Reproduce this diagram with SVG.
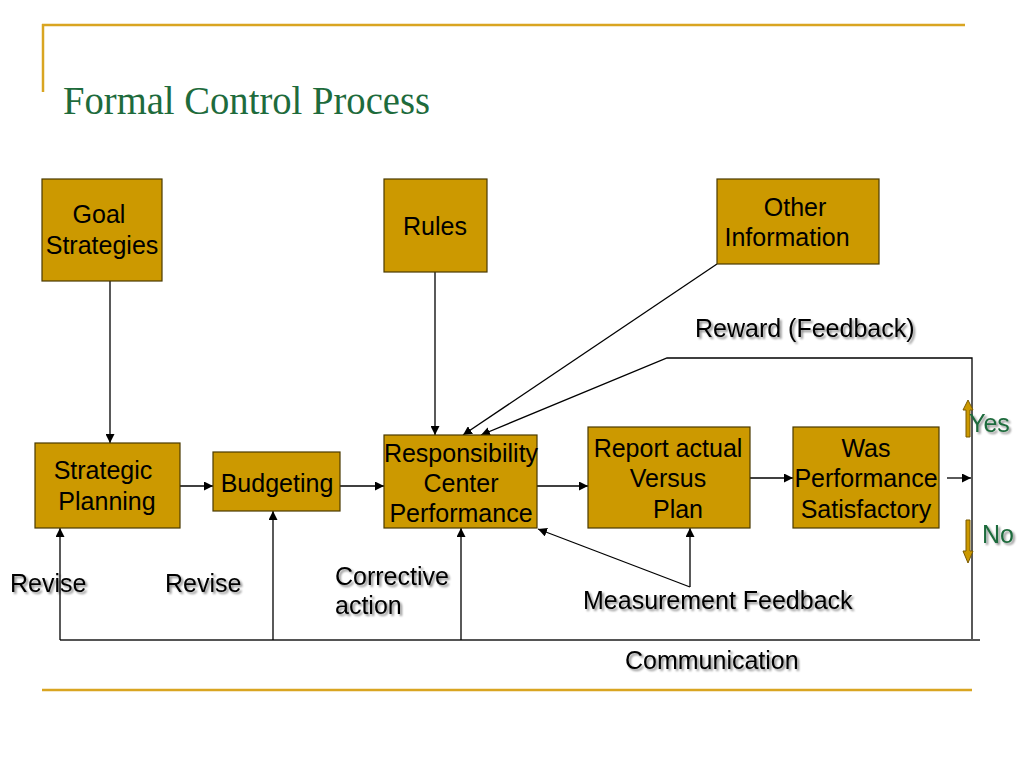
<svg xmlns="http://www.w3.org/2000/svg" width="1024" height="768" viewBox="0 0 1024 768">
<defs>
<style>
.box{fill:#CC9900;stroke:#4a3a00;stroke-width:1.2}
.t{font-family:"Liberation Sans",Arial,sans-serif;font-size:25px;fill:#000;filter:url(#sh)}
.bt{font-family:"Liberation Sans",Arial,sans-serif;font-size:25px;fill:#000}
.g{fill:#1E6B3C}
.ln{fill:none;stroke:#000;stroke-width:1.3}
.gl{fill:none;stroke:#555;stroke-width:1.8}
.rule{stroke:#D9A521;stroke-width:2.5}
.ga{fill:#CC9900;stroke:#7a5a00;stroke-width:1}
</style>
<filter id="sh" x="-10%" y="-20%" width="130%" height="150%">
<feGaussianBlur in="SourceAlpha" stdDeviation="0.8"/>
<feOffset dx="1.5" dy="1.5" result="o"/>
<feComponentTransfer><feFuncA type="linear" slope="0.45"/></feComponentTransfer>
<feMerge><feMergeNode/><feMergeNode in="SourceGraphic"/></feMerge>
</filter>
<marker id="ar" viewBox="0 0 10 10" refX="10" refY="5" markerWidth="9" markerHeight="9" markerUnits="userSpaceOnUse" orient="auto">
<path d="M0,0 L10,5 L0,10 z" fill="#000"/>
</marker>
</defs>
<rect width="1024" height="768" fill="#fff"/>
<g id="frame">
<line class="rule" x1="42" y1="25" x2="965" y2="25"/>
<line class="rule" x1="43" y1="24" x2="43" y2="92"/>
<line class="rule" x1="42" y1="690" x2="972" y2="690"/>
<text x="63" y="114" font-family="Liberation Serif,'Times New Roman',serif" font-size="39" fill="#1E6B3C" textLength="367" lengthAdjust="spacingAndGlyphs">Formal Control Process</text>
</g>
<g id="connectors">
<line class="ln" x1="110" y1="281" x2="110" y2="443" marker-end="url(#ar)"/>
<line class="ln" x1="435" y1="272" x2="435" y2="435" marker-end="url(#ar)"/>
<line class="ln" x1="717" y1="264" x2="463" y2="435" marker-end="url(#ar)"/>
<polyline class="ln" points="972,640 972,358 667,358 481,435" marker-end="url(#ar)"/>
<line class="ln" x1="180" y1="486" x2="213" y2="486" marker-end="url(#ar)"/>
<line class="ln" x1="340" y1="486" x2="384" y2="486" marker-end="url(#ar)"/>
<line class="ln" x1="537" y1="486" x2="588" y2="486" marker-end="url(#ar)"/>
<line class="ln" x1="750" y1="478" x2="793" y2="478" marker-end="url(#ar)"/>
<line class="ln" x1="947" y1="478" x2="971" y2="478" marker-end="url(#ar)"/>
<line class="gl" x1="60" y1="640" x2="980" y2="640"/>
<line class="ln" x1="60" y1="640" x2="60" y2="528" marker-end="url(#ar)"/>
<line class="ln" x1="273" y1="640" x2="273" y2="511" marker-end="url(#ar)"/>
<line class="ln" x1="461" y1="640" x2="461" y2="528" marker-end="url(#ar)"/>
<line class="ln" x1="690" y1="587" x2="690" y2="528" marker-end="url(#ar)"/>
<line class="ln" x1="690" y1="587" x2="538" y2="529" marker-end="url(#ar)"/>
<path class="ga" d="M966,437 L966,410 L963,410 L968,400 L973,410 L970,410 L970,437 Z"/>
<path class="ga" d="M966,520 L966,551 L963,551 L968,563 L973,551 L970,551 L970,520 Z"/>
</g>
<g id="goal">
<rect class="box" x="42" y="179" width="120" height="102"/>
<text class="bt" text-anchor="middle"><tspan x="99" y="223">Goal</tspan><tspan x="102" y="254">Strategies</tspan></text>
</g>
<g id="rules">
<rect class="box" x="384" y="179" width="103" height="93"/>
<text class="bt" x="435" y="235" text-anchor="middle">Rules</text>
</g>
<g id="other">
<rect class="box" x="717" y="179" width="162" height="85"/>
<text class="bt" text-anchor="middle"><tspan x="795" y="216">Other</tspan><tspan x="787" y="246">Information</tspan></text>
</g>
<g id="strategic">
<rect class="box" x="35" y="443" width="145" height="85"/>
<text class="bt" text-anchor="middle"><tspan x="103" y="479">Strategic</tspan><tspan x="107" y="510">Planning</tspan></text>
</g>
<g id="budgeting">
<rect class="box" x="213" y="452" width="127" height="59"/>
<text class="bt" x="277" y="492" text-anchor="middle">Budgeting</text>
</g>
<g id="responsibility">
<rect class="box" x="384" y="435" width="153" height="93"/>
<text class="bt" text-anchor="middle"><tspan x="461" y="462">Responsibility</tspan><tspan x="461" y="492">Center</tspan><tspan x="461" y="522">Performance</tspan></text>
</g>
<g id="report">
<rect class="box" x="588" y="427" width="162" height="101"/>
<text class="bt" text-anchor="middle"><tspan x="668" y="457">Report actual</tspan><tspan x="668" y="487">Versus</tspan><tspan x="678" y="518">Plan</tspan></text>
</g>
<g id="satisfactory">
<rect class="box" x="793" y="427" width="146" height="101"/>
<text class="bt" text-anchor="middle"><tspan x="866" y="457">Was</tspan><tspan x="866" y="487">Performance</tspan><tspan x="866" y="518">Satisfactory</tspan></text>
</g>
<g id="labels">
<text class="t" x="695" y="337">Reward (Feedback)</text>
<text class="t g" x="969" y="432">Yes</text>
<text class="t g" x="982" y="543">No</text>
<text class="t" x="10" y="592">Revise</text>
<text class="t" x="165" y="592">Revise</text>
<text class="t" x="335" y="585">Corrective</text>
<text class="t" x="335" y="614">action</text>
<text class="t" x="583" y="609">Measurement Feedback</text>
<text class="t" x="625" y="669">Communication</text>
</g>
</svg>
